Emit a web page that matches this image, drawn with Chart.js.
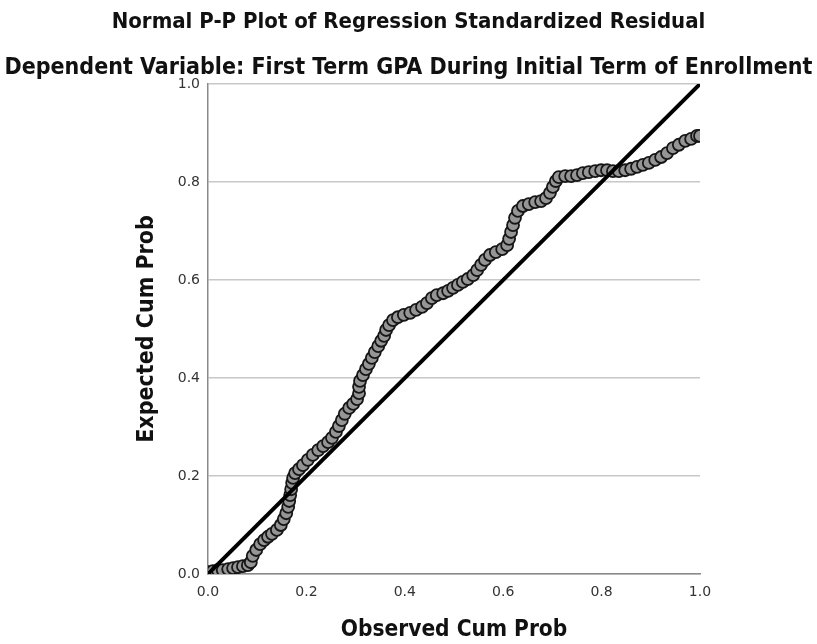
<!DOCTYPE html>
<html>
<head>
<meta charset="utf-8">
<script src="https://cdn.jsdelivr.net/npm/chart.js@4"></script>
<style>
  html, body { margin: 0; padding: 0; background: #fff; }
  #wrap { width: 817px; height: 644px; }
</style>
</head>
<body>
<div id="wrap"><canvas id="chartId" width="817" height="644"></canvas></div>
<script>
// observed cumulative probability (x) and expected cumulative probability (y)
const observedCumProb = [
  0.002, 0.010, 0.020, 0.030, 0.041, 0.051, 0.061, 0.071, 0.081, 0.087,
  0.091, 0.098, 0.106, 0.114, 0.122, 0.130, 0.140, 0.148, 0.154, 0.159,
  0.163, 0.165, 0.167, 0.169, 0.171, 0.173, 0.177, 0.185, 0.193, 0.203,
  0.213, 0.224, 0.234, 0.244, 0.252, 0.260, 0.266, 0.272, 0.278, 0.287,
  0.295, 0.303, 0.307, 0.307, 0.309, 0.315, 0.321, 0.327, 0.333, 0.339,
  0.346, 0.352, 0.358, 0.362, 0.368, 0.376, 0.386, 0.398, 0.411, 0.423,
  0.435, 0.445, 0.455, 0.465, 0.478, 0.488, 0.498, 0.508, 0.518, 0.528,
  0.539, 0.547, 0.555, 0.563, 0.573, 0.585, 0.598, 0.608, 0.612, 0.616,
  0.620, 0.624, 0.630, 0.640, 0.652, 0.665, 0.677, 0.687, 0.695, 0.701,
  0.707, 0.713, 0.726, 0.738, 0.750, 0.762, 0.774, 0.787, 0.799, 0.811,
  0.823, 0.835, 0.848, 0.860, 0.872, 0.884, 0.896, 0.909, 0.921, 0.933,
  0.945, 0.957, 0.970, 0.982, 0.994, 1.000
];
const expectedCumProb = [
  0.004, 0.006, 0.008, 0.008, 0.010, 0.012, 0.014, 0.016, 0.018, 0.024,
  0.037, 0.049, 0.061, 0.069, 0.076, 0.082, 0.090, 0.100, 0.112, 0.124,
  0.137, 0.149, 0.161, 0.173, 0.186, 0.196, 0.206, 0.214, 0.222, 0.233,
  0.243, 0.253, 0.261, 0.269, 0.278, 0.290, 0.302, 0.314, 0.327, 0.339,
  0.347, 0.357, 0.369, 0.382, 0.394, 0.406, 0.418, 0.429, 0.441, 0.453,
  0.465, 0.476, 0.486, 0.498, 0.508, 0.518, 0.524, 0.529, 0.533, 0.539,
  0.545, 0.553, 0.563, 0.569, 0.573, 0.578, 0.584, 0.590, 0.596, 0.602,
  0.610, 0.620, 0.631, 0.641, 0.651, 0.657, 0.663, 0.671, 0.684, 0.698,
  0.712, 0.727, 0.741, 0.751, 0.755, 0.759, 0.761, 0.767, 0.778, 0.790,
  0.802, 0.810, 0.812, 0.812, 0.814, 0.818, 0.820, 0.822, 0.824, 0.824,
  0.822, 0.822, 0.824, 0.827, 0.831, 0.835, 0.839, 0.845, 0.851, 0.859,
  0.869, 0.876, 0.884, 0.888, 0.894, 0.894
];
// reference diagonal
const diagonalX = [0, 1];
const diagonalY = [0, 1];
const tickValues = [0, 0.2, 0.4, 0.6, 0.8, 1.0];

const titleFont = "'DejaVu Sans Condensed', 'DejaVu Sans', sans-serif";
const tickFont = "'DejaVu Sans', sans-serif";

var pts = observedCumProb.map((x, i) => ({ x: x, y: expectedCumProb[i] }));
var diag = diagonalX.map((x, i) => ({ x: x, y: diagonalY[i] }));

var chrt = document.getElementById("chartId").getContext("2d");

let chartConfig = {
  type: 'scatter',
  data: {
    datasets: [{
      type: 'line',
      label: 'diagonal',
      data: diag,
      borderColor: '#000',
      borderWidth: 4,
      pointRadius: 0,
      fill: false,
      order: 0
    }, {
      label: 'residuals',
      data: pts,
      backgroundColor: '#959595',
      borderColor: '#161616',
      borderWidth: 1.8,
      pointRadius: 6,
      order: 1
    }]
  },
  options: {
    responsive: false,
    animation: false,
    layout: { padding: 0 },
    plugins: {
      legend: { display: false },
      tooltip: { enabled: false },
      title: {
        display: true,
        text: 'Normal P-P Plot of Regression Standardized Residual',
        color: '#111',
        font: { family: titleFont, size: 22, weight: 'bold' },
        padding: { top: 9, bottom: 19 }
      },
      subtitle: {
        display: true,
        text: 'Dependent Variable: First Term GPA During Initial Term of Enrollment',
        color: '#111',
        font: { family: titleFont, size: 23, weight: 'bold' },
        padding: { top: 0, bottom: 2 }
      }
    },
    scales: {
      x: {
        type: 'linear',
        min: 0, max: 1,
        afterBuildTicks: (s) => { s.ticks = tickValues.map(v => ({ value: v })); },
        afterFit: (s) => { s.height = 70; },
        grid: { display: false },
        border: { display: true, color: '#8a8a8a', width: 1.5 },
        ticks: {
          color: '#333',
          font: { family: tickFont, size: 14 },
          padding: 2,
          maxRotation: 0,
          callback: (v) => Number(v).toFixed(1)
        },
        title: {
          display: true,
          text: 'Observed Cum Prob',
          color: '#111',
          font: { family: titleFont, size: 22.5, weight: 'bold' },
          padding: { top: 0, bottom: 0 }
        }
      },
      y: {
        type: 'linear',
        min: 0, max: 1,
        afterBuildTicks: (s) => { s.ticks = tickValues.map(v => ({ value: v })); },
        afterFit: (s) => { s.width = 208; },
        grid: { color: '#c8c8c8', lineWidth: 1.5, drawTicks: false },
        border: { display: true, color: '#8a8a8a', width: 1.5 },
        ticks: {
          color: '#333',
          font: { family: tickFont, size: 14 },
          padding: 8,
          callback: (v) => Number(v).toFixed(1)
        },
        title: {
          display: true,
          text: 'Expected Cum Prob',
          color: '#111',
          font: { family: titleFont, size: 23, weight: 'bold' },
          padding: { top: 133, bottom: 0 }
        }
      },
      // empty right-hand box so the plot ends where the reference's does
      spacer: {
        type: 'linear',
        position: 'right',
        min: 0, max: 1,
        afterFit: (s) => { s.width = 117; },
        grid: { display: false, drawTicks: false },
        border: { display: false },
        ticks: { display: false }
      }
    }
  }
};
window.ppChart = new Chart(chrt, chartConfig);
</script>
</body>
</html>
